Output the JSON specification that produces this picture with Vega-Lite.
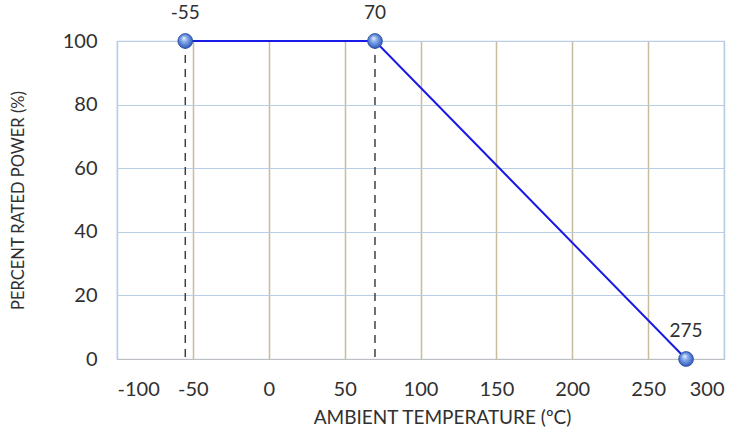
{
  "$schema": "https://vega.github.io/schema/vega-lite/v6.json",
  "width": 607,
  "height": 318,
  "autosize": {"type": "none"},
  "padding": {"left": 117, "top": 41, "right": 20, "bottom": 75},
  "background": "white",
  "config": {
    "view": {"stroke": "#b9cde5", "strokeWidth": 1.2},
    "font": "Lato"
  },
  "data": {
    "values": [
      {"temp": -55, "power": 100, "label": "-55"},
      {"temp": 70, "power": 100, "label": "70"},
      {"temp": 275, "power": 0, "label": "275"}
    ]
  },
  "layer": [
    {
      "transform": [{"filter": "datum.temp < 100"}],
      "mark": {"type": "rule", "color": "#404040", "strokeDash": [8, 6], "strokeWidth": 1.5},
      "encoding": {
        "x": {
          "field": "temp", "type": "quantitative",
          "scale": {"domain": [-100, 300], "nice": false},
          "axis": {
            "values": [-100, -50, 0, 50, 100, 150, 200, 250, 300],
            "labelExpr": "'' + datum.value",
            "title": "AMBIENT TEMPERATURE (ºC)",
            "titleFont": "Lato", "titleFontSize": 19, "titleFontWeight": "normal", "titleColor": "#303030",
            "titlePadding": 9,
            "titleX": 325,
            "labelFont": "Lato", "labelFontSize": 20, "labelColor": "#303030", "labelPadding": 20,
            "ticks": false,
            "domainColor": "#bfbfbf",
            "grid": true,
            "gridColor": {"condition": {"test": "datum.value == -100 || datum.value == 300", "value": "#b9cde5"}, "value": "#c9bc9c"},
            "gridWidth": 1.5
          }
        },
        "y": {
          "field": "power", "type": "quantitative",
          "scale": {"domain": [0, 100], "nice": false},
          "axis": {
            "values": [0, 20, 40, 60, 80, 100],
            "title": "PERCENT RATED POWER (%)",
            "titleFont": "Lato", "titleFontSize": 16.5, "titleFontWeight": "normal", "titleColor": "#303030",
            "titlePadding": 36,
            "labelFont": "Lato", "labelFontSize": 20, "labelColor": "#303030", "labelPadding": 20,
            "ticks": false,
            "domain": false,
            "grid": true,
            "gridColor": "#b9cde5",
            "gridWidth": 1.2
          }
        },
        "y2": {"datum": 0}
      }
    },
    {
      "mark": {"type": "line", "color": "#1a1ae6", "strokeWidth": 2},
      "encoding": {
        "x": {"field": "temp", "type": "quantitative"},
        "y": {"field": "power", "type": "quantitative"}
      }
    },
    {
      "mark": {
        "type": "point", "filled": true, "size": 220, "opacity": 1,
        "stroke": "#2a4f9a", "strokeWidth": 0.8,
        "fill": {
          "gradient": "radial",
          "x1": 0.4, "y1": 0.3, "r1": 0,
          "x2": 0.5, "y2": 0.5, "r2": 0.6,
          "stops": [
            {"offset": 0, "color": "#f4f8ff"},
            {"offset": 0.3, "color": "#8fb2ec"},
            {"offset": 0.8, "color": "#3a64c4"},
            {"offset": 1, "color": "#2a4fa8"}
          ]
        }
      },
      "encoding": {
        "x": {"field": "temp", "type": "quantitative"},
        "y": {"field": "power", "type": "quantitative"}
      }
    },
    {
      "mark": {"type": "text", "dy": -28, "fontSize": 19, "font": "Lato", "color": "#303030"},
      "encoding": {
        "x": {"field": "temp", "type": "quantitative"},
        "y": {"field": "power", "type": "quantitative"},
        "text": {"field": "label"}
      }
    }
  ]
}
